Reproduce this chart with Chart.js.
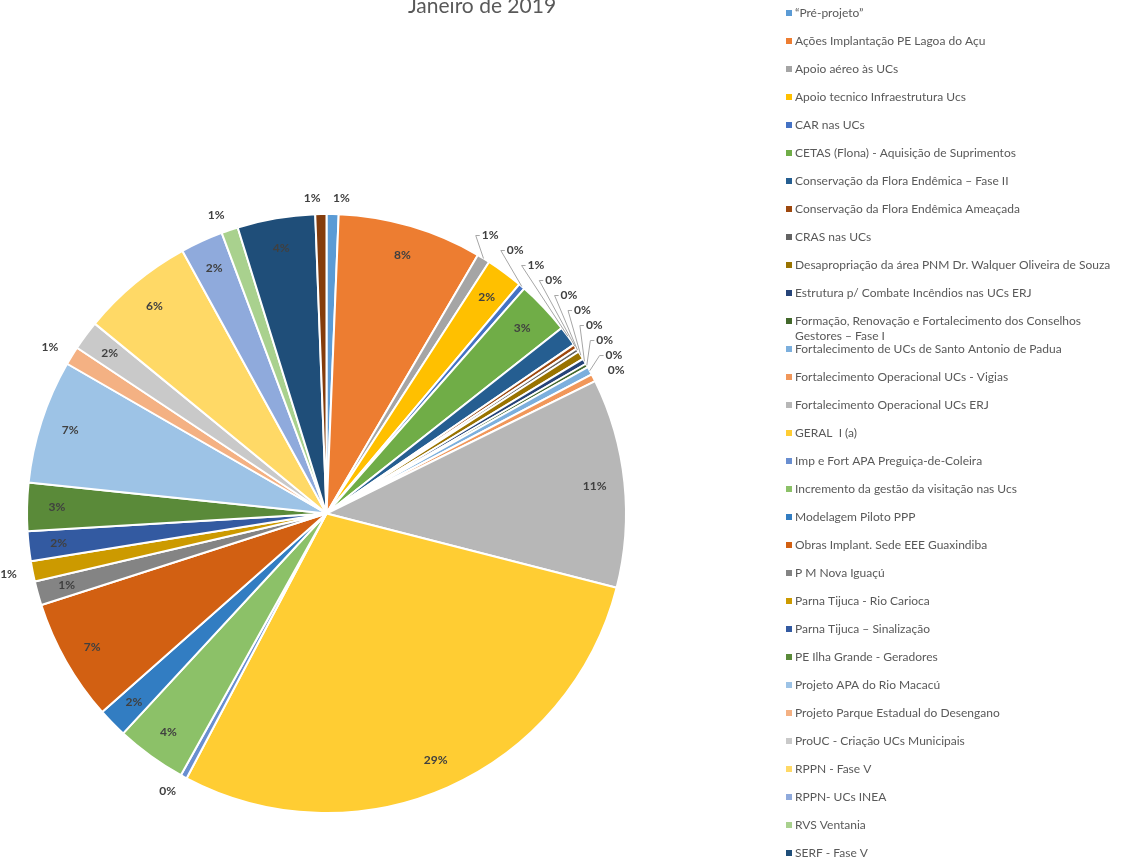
<!DOCTYPE html>
<html>
<head>
<meta charset="utf-8">
<title>Janeiro de 2019</title>
<script src="https://cdn.jsdelivr.net/npm/chart.js@4/dist/chart.umd.min.js"></script>
<style>
  html, body { margin: 0; padding: 0; background: #fff; }
  #wrap { position: relative; width: 1128px; height: 858px; }
</style>
</head>
<body>
<div id="wrap"><canvas id="chart"></canvas></div>
<script>
// Data (share of total, %)
const titleText = 'Janeiro de 2019';

const categories = [
    '\u201cPré-projeto\u201d',
    'Ações Implantação PE Lagoa do Açu',
    'Apoio aéreo às UCs',
    'Apoio tecnico Infraestrutura Ucs',
    'CAR nas UCs',
    'CETAS (Flona) - Aquisição de Suprimentos',
    'Conservação da Flora Endêmica – Fase II',
    'Conservação da Flora Endêmica Ameaçada',
    'CRAS nas UCs',
    'Desapropriação da área PNM Dr. Walquer Oliveira de Souza',
    'Estrutura p/ Combate Incêndios nas UCs ERJ',
    'Formação, Renovação e Fortalecimento dos Conselhos Gestores – Fase I',
    'Fortalecimento de UCs de Santo Antonio de Padua',
    'Fortalecimento Operacional UCs - Vigias',
    'Fortalecimento Operacional UCs ERJ',
    'GERAL  I (a)',
    'Imp e Fort APA Preguiça-de-Coleira',
    'Incremento da gestão da visitação nas Ucs',
    'Modelagem Piloto PPP',
    'Obras Implant. Sede EEE Guaxindiba',
    'P M Nova Iguaçú',
    'Parna Tijuca - Rio Carioca',
    'Parna Tijuca – Sinalização',
    'PE Ilha Grande - Geradores',
    'Projeto APA do Rio Macacú',
    'Projeto Parque Estadual do Desengano',
    'ProUC - Criação UCs Municipais',
    'RPPN - Fase V',
    'RPPN- UCs INEA',
    'RVS Ventania',
    'SERF - Fase V',
    'Outros'
];

const shares = [
    0.65, 7.8, 0.7, 2.0, 0.35, 2.9, 1.1, 0.25,
    0.2, 0.45, 0.3, 0.2, 0.45, 0.4, 11.3, 28.8,
    0.35, 3.8, 1.6, 6.6, 1.3, 1.1, 1.6, 2.6,
    6.7, 1.0, 1.6, 6.1, 2.3, 0.9, 4.2, 0.6
];

const sliceColors = [
    '#5B9BD5', '#ED7D31', '#A5A5A5', '#FFC000', '#4472C4', '#70AD47',
    '#255E91', '#9E480E', '#636363', '#997300', '#264478', '#43682B',
    '#7CAFDD', '#F1975A', '#B7B7B7', '#FFCD33', '#698ED0', '#8CC168',
    '#327DC2', '#D26012', '#848484', '#CC9A00', '#335AA1', '#5A8A39',
    '#9DC3E6', '#F4B183', '#C9C9C9', '#FFD966', '#8FAADC', '#A9D18E',
    '#1F4E79', '#843C0C'
];

const FONT = 'Lato, "Noto Sans", sans-serif';

// percentage labels, inside when they fit, otherwise outside with leader lines
const pieLabels = {
    id: 'pieLabels',
    afterDatasetsDraw(chart) {
        const ctx = chart.ctx;
        const meta = chart.getDatasetMeta(0);
        const values = chart.data.datasets[0].data;
        const total = values.reduce((a, b) => a + b, 0);
        const inside = [];
        const sides = { right: [], left: [] };

        ctx.save();
        ctx.font = 'bold 12px ' + FONT;

        meta.data.forEach((arc, i) => {
            const p = arc.getProps(['x', 'y', 'startAngle', 'endAngle', 'outerRadius'], true);
            const mid = (p.startAngle + p.endAngle) / 2;
            const text = Math.round(values[i] / total * 100) + '%';
            const w = ctx.measureText(text).width;
            const rIn = p.outerRadius * 0.9;
            if ((p.endAngle - p.startAngle) * rIn > w + 3) {
                inside.push({ text, x: p.x + Math.cos(mid) * rIn, y: p.y + Math.sin(mid) * rIn });
            } else {
                const rOut = p.outerRadius + 16;
                const lbl = {
                    text, w, mid, cx: p.x, cy: p.y, R: p.outerRadius, rOut,
                    ny: p.y + Math.sin(mid) * rOut
                };
                (Math.cos(mid) >= 0 ? sides.right : sides.left).push(lbl);
            }
        });

        ctx.fillStyle = '#404040';
        ctx.textAlign = 'center';
        ctx.textBaseline = 'middle';
        inside.forEach((l) => ctx.fillText(l.text, l.x, l.y));

        ['right', 'left'].forEach((side) => {
            const list = sides[side].sort((a, b) => b.ny - a.ny);
            const dir = side === 'right' ? 1 : -1;
            list.forEach((l, k) => {
                l.y = k === 0 ? l.ny : Math.min(l.ny, list[k - 1].y - 15);
                const dy = l.y - l.cy;
                l.x = l.cx + dir * Math.sqrt(Math.max(l.rOut * l.rOut - dy * dy, 0));
                const natX = l.cx + Math.cos(l.mid) * l.rOut;
                const moved = Math.hypot(natX - l.x, l.ny - l.y) > 4;
                if (moved) {
                    ctx.strokeStyle = '#A6A6A6';
                    ctx.lineWidth = 1;
                    ctx.beginPath();
                    ctx.moveTo(l.cx + Math.cos(l.mid) * l.R, l.cy + Math.sin(l.mid) * l.R);
                    ctx.lineTo(l.x, l.y);
                    ctx.lineTo(l.x + dir * 4, l.y);
                    ctx.stroke();
                }
                ctx.textAlign = side === 'right' ? 'left' : 'right';
                ctx.fillText(l.text, l.x + dir * (moved ? 6 : 0), l.y);
            });
        });
        ctx.restore();
    }
};

// title (partly cut at the top, as in the reference) and the right-hand legend
const sideLegend = {
    id: 'sideLegend',
    afterDraw(chart) {
        const ctx = chart.ctx;
        ctx.save();
        ctx.fillStyle = '#595959';
        ctx.font = '21px ' + FONT;
        ctx.textAlign = 'center';
        ctx.textBaseline = 'alphabetic';
        ctx.fillText(titleText, 482, 13);

        ctx.font = '12px ' + FONT;
        ctx.textAlign = 'left';
        ctx.textBaseline = 'middle';
        const maxW = chart.width - 795 - 4;
        categories.forEach((name, i) => {
            const y = 13 + i * 28;
            ctx.fillStyle = sliceColors[i];
            ctx.fillRect(786, y - 3, 6, 6);
            ctx.fillStyle = '#595959';
            const lines = [];
            let cur = '';
            name.split(' ').forEach((word) => {
                const test = cur ? cur + ' ' + word : word;
                if (cur && ctx.measureText(test).width > maxW) {
                    lines.push(cur);
                    cur = word;
                } else {
                    cur = test;
                }
            });
            lines.push(cur);
            lines.forEach((ln, j) => ctx.fillText(ln, 795, y + j * 15));
        });
        ctx.restore();
    }
};

new Chart(document.getElementById('chart'), {
    type: 'pie',
    data: {
        labels: categories,
        datasets: [{
            data: shares,
            backgroundColor: sliceColors,
            borderColor: '#ffffff',
            borderWidth: 2
        }]
    },
    options: {
        responsive: true,
        maintainAspectRatio: false,
        animation: false,
        events: [],
        layout: { padding: { left: 26, right: 501, top: 213, bottom: 44 } },
        plugins: {
            legend: { display: false },
            tooltip: { enabled: false },
            title: { display: false }
        }
    },
    plugins: [pieLabels, sideLegend]
});
</script>
</body>
</html>
